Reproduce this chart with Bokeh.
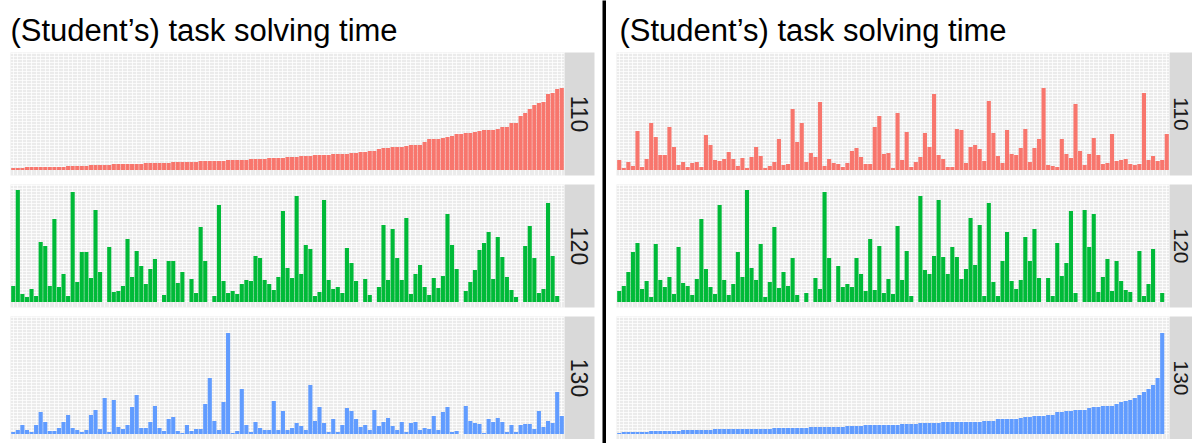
import numpy as np
from bokeh.plotting import figure
from bokeh.layouts import row, column
from bokeh.models import FixedTicker, Range1d
from bokeh.core.properties import value
from bokeh.embed import file_html
from bokeh.resources import INLINE

title_text = "(Student\u2019s) task solving time"
facets = ["110", "120", "130"]
colors = ["#F8766D", "#00BA38", "#619CFF"]

# ---- Left: students ordered by task 110 time (None = no value) ----
left_110 = [2, 2, 2, 3, 3, 3, 3, 3, 3, 3, 3, 3, 4, 4, 4, 4, 4, 5, 5, 5, 5, 5,
            6, 6, 6, 6, 6, 6, 6, 7, 7, 7, 7, 7, 7, 8, 8, 8, 8, 8, 8, 9, 9, 9, 9, 9, 9,
            10, 10, 10, 10, 10, 11, 11, 11, 11, 12, 12, 12, 12, 13, 13, 13, 14, 14, 14,
            15, 15, 15, 15, 16, 16, 16, 16, 17, 17, 18, 18, 19, 19, 21, 22, 22, 23, 23, 23,
            24, 25, 25, 25, 28, 31, 31, 31, 32, 33, 34, 36, 36, 37, 37, 38, 39, 40, 40, 40,
            41, 43, 43, 47, 47, 54, 57, 61, 65, 67, 68, 76, 77, 81, 82]
left_120 = [16, 112, 8, 5, 13, 6, 60, 56, 16, 83, 15, 28, 6, 110, 20, 50, 50, 24, 92, 30,
            None, 55, 10, 11, 16, 63, 25, 51, 36, 18, 33, 43, None, 7, 41, 41, 19, 30, None, 23,
            9, 75, 41, None, 6, 97, 21, 9, 11, 8, 18, 22, 21, 46, 44, 22, 18, 12, 25, 91,
            34, 24, 106, 28, 57, 53, 6, 10, 102, 22, 13, 15, 9, 54, 39, 21, None, 23, 7, None,
            15, 77, 22, 73, 44, 22, 84, 8, 28, 37, 15, 7, 24, 14, 26, 88, 57, 33, None, 11,
            20, 32, 52, 59, 70, 23, 65, 45, 25, 12, 5, None, 56, 76, 44, 9, 13, 99, 46, 6, None]
left_130 = [2, 4, 9, 4, 2, 9, 22, 12, 3, 3, 6, 12, 19, 6, 4, 2, 4, 19, 24, 5,
            36, 2, 34, 7, 5, 9, 27, 39, 6, 6, 12, 28, 6, 3, 15, 17, 3, 1, 9, 3,
            5, 5, 30, 56, 13, 4, 32, 101, 1, 3, 45, 9, 2, 12, 6, 4, 4, 33, 4, 23,
            4, 6, 11, 8, 4, 49, 13, 27, 11, 2, 15, 2, 9, 26, 23, 15, 7, 9, 4, 24,
            8, 12, 16, 8, 4, 12, 2, 11, 12, 4, 6, 5, 18, 4, 22, 27, 2, 3, None, 28,
            13, 11, 10, 1, 15, 12, 16, 12, 2, 9, 2, 9, 10, 10, 5, 23, 7, 13, 11, 42, 18]

# ---- Right: students ordered by task 130 time ----
right_110 = [10, 2, 8, 4, 39, 3, 11, 47, 33, 15, 15, 43, 23, 5, 8, 3, 7, 8, 3, 35,
             25, 10, 9, 11, 18, 11, 4, 12, 2, 13, 23, 14, 2, 4, 8, 31, 5, 6, 61, 28,
             47, 8, 17, 13, 68, 4, 11, 7, 6, 3, 7, 19, 22, 13, 6, 6, 43, 54, 16, 17,
             2, 57, 10, 38, 3, 8, 13, 37, 23, 76, 15, 11, 3, 3, 41, 40, 7, 23, 25, 21,
             9, 69, 37, 14, 7, 40, 16, 15, 22, 41, 8, 22, 31, 82, 5, 4, 3, 31, 16, 12,
             66, 19, 5, 16, 32, 15, 6, 7, 36, 9, 10, 11, 6, 5, 6, 77, 10, 14, 9, 10, 36]
right_120 = [11, 16, 30, 50, 59, 13, 21, 5, 58, 22, 15, 25, 8, 55, 19, 16, 7, 23, 83, 33,
             15, 8, 97, 22, 7, 18, 50, 25, 112, 34, 22, 58, 5, 20, 75, 14, 30, 16, 44, 7,
             None, 9, None, 24, 13, 110, 44, None, 36, 15, 18, 15, 44, 28, 11, 63, 12, 56, 9, 23,
             8, 76, 22, 51, 6, None, 106, 32, 28, 46, 102, 45, 28, 55, 45, 23, 33, 84, 37, 77,
             6, 99, 20, 6, 41, 70, 21, 13, 22, 65, 41, 73, 24, None, 24, 6, 59, 26, 39, 91,
             9, None, 92, 55, 88, 10, 25, 43, 11, 41, 21, 12, 10, None, 51, 6, 18, 53, None, 9, None]
right_130 = [1, 2, 2, 2, 2, 2, 2, 3, 3, 3, 3, 3, 3, 3, 4, 4, 4, 4, 4, 4,
             4, 5, 5, 5, 5, 5, 5, 5, 5, 5, 5, 5, 5, 5, 6, 6, 6, 6, 6, 6,
             6, 6, 7, 7, 7, 7, 7, 7, 7, 7, 8, 8, 8, 8, 9, 9, 9, 9, 9, 9,
             9, 9, 10, 10, 10, 10, 11, 11, 11, 11, 11, 12, 12, 12, 12, 12, 12, 12, 12, 12,
             13, 13, 13, 15, 15, 15, 15, 15, 16, 17, 17, 18, 18, 18, 19, 19, 22, 22, 23, 23,
             24, 24, 24, 26, 27, 27, 28, 28, 28, 30, 32, 33, 34, 36, 39, 42, 45, 49, 56, 101, None]

sides = [
    dict(series=[left_110, left_120, left_130], left_pad=10, frame_w=554, strip_w=30,
         strip_pad=8, strip_text_x=15, strip_font="23px", title_x=10),
    dict(series=[right_110, right_120, right_130], left_pad=10, frame_w=553, strip_w=23,
         strip_pad=0, strip_text_x=11.5, strip_font="21px", title_x=13),
]

N = len(left_110)
FRAME_H = 123
GAP = 9
TITLE_H = 52
all_vals = [v for s in sides for ser in s["series"] for v in ser if v is not None]
D = max(all_vals)
Y0, Y1 = -0.05 * D, 1.05 * D
FONT = value("Liberation Sans")


def base_fig(w, h, **kw):
    opts = dict(width=w, height=h, output_backend="svg", toolbar_location=None,
                x_axis_location=None, y_axis_location=None, min_border=0,
                min_border_left=0, min_border_right=0, min_border_top=0, min_border_bottom=0,
                outline_line_color=None, border_fill_color="white")
    opts.update(kw)
    return figure(**opts)


def panel(vals, color, frame_w, left_pad, bottom_pad):
    p = base_fig(frame_w + left_pad, FRAME_H + bottom_pad,
                 x_range=Range1d(0.4, N + 0.6), y_range=Range1d(Y0, Y1),
                 min_border_left=left_pad, min_border_bottom=bottom_pad,
                 background_fill_color="#EBEBEB")
    p.xgrid.ticker = FixedTicker(ticks=list(range(1, N + 1)))
    p.ygrid.ticker = FixedTicker(ticks=[float(t) for t in np.arange(0, Y1, 3.0)])
    for g in p.grid:
        g.grid_line_color = "white"
        g.grid_line_width = 1
        g.grid_line_alpha = 0.75
    xs = [i + 1 for i, v in enumerate(vals) if v is not None]
    ys = [v for v in vals if v is not None]
    p.vbar(x=xs, top=ys, bottom=0, width=0.9, fill_color=color, line_color=None)
    return p


def strip(label, strip_w, right_pad, bottom_pad, text_x, font_size):
    p = base_fig(strip_w + right_pad, FRAME_H + bottom_pad,
                 x_range=Range1d(0, strip_w), y_range=Range1d(0, 1),
                 min_border_right=right_pad, min_border_bottom=bottom_pad,
                 background_fill_color="#D9D9D9")
    p.grid.visible = False
    p.text(x=[text_x], y=[0.5], text=[label], angle=-np.pi / 2, text_align="center",
           text_baseline="middle", text_font=FONT, text_font_size=font_size,
           text_color="#1A1A1A")
    return p


cols = []
for k, s in enumerate(sides):
    col_w = s["left_pad"] + s["frame_w"] + s["strip_w"] + s["strip_pad"]
    t = base_fig(col_w, TITLE_H, x_range=Range1d(0, col_w), y_range=Range1d(0, TITLE_H),
                 background_fill_color="white")
    t.grid.visible = False
    t.text(x=[s["title_x"]], y=[22], text=[title_text], text_align="left",
           text_baseline="middle", text_font=FONT, text_font_size="31px",
           text_color="black")
    rows = [t]
    for j, (ser, lab, colr) in enumerate(zip(s["series"], facets, colors)):
        bp = GAP if j < 2 else 0
        rows.append(row(panel(ser, colr, s["frame_w"], s["left_pad"], bp),
                        strip(lab, s["strip_w"], s["strip_pad"], bp,
                              s["strip_text_x"], s["strip_font"])))
    cols.append(column(*rows))

sep = base_fig(4, 443, x_range=Range1d(0, 1), y_range=Range1d(0, 1),
               background_fill_color="black")
sep.grid.visible = False

layout = row(cols[0], sep, cols[1])
open("out.html", "w").write(file_html(layout, INLINE))
